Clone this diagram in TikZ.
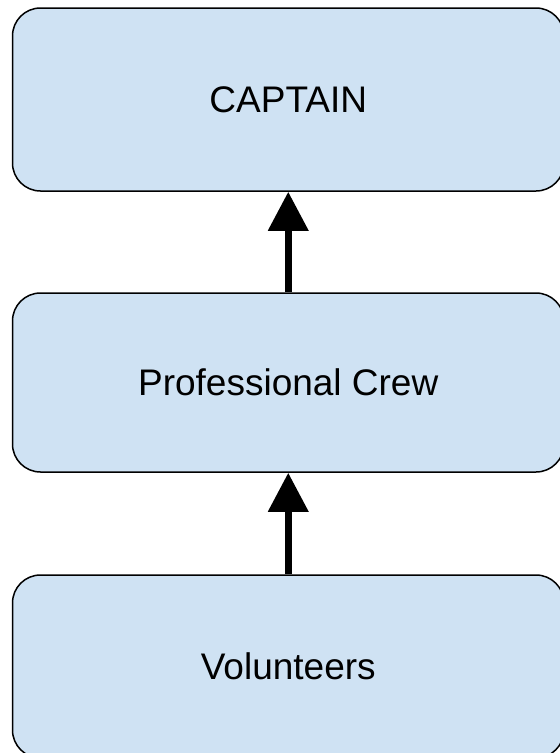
\documentclass[tikz,border=0pt]{standalone}
\usepackage{fontspec}
\setmainfont{Liberation Sans}
\usetikzlibrary{arrows.meta}
\definecolor{boxblue}{HTML}{CFE2F3}

\begin{document}
\begin{tikzpicture}
[x=1pt,y=-1pt,%
  boxDecorate/.style={shape=rectangle,rounded corners=28pt,draw,line width=1.5pt,fill=boxblue,minimum width=551.5pt,font=\fontsize{37}{44}\selectfont},%
  arrowDecorate/.style={-{Triangle[width=39pt,length=39pt]},line width=7pt}]
\useasboundingbox (0,0) rectangle (560,753);
\clip (0,0) rectangle (560,753);
%% boxes
\foreach \nodename/\y/\h/\txt in {captain/99.5/183/CAPTAIN, crew/382.5/179/Professional Crew, volunteers/666.5/183/Volunteers}
{
  \node (\nodename) at (288.25,\y) [boxDecorate,minimum height=\h pt] {\txt};
}
%% arrows
\path
\foreach \startnode/\endnode in {crew/captain, volunteers/crew}
{
  (\startnode) edge[arrowDecorate] (\endnode)
};
\end{tikzpicture}
\end{document}
